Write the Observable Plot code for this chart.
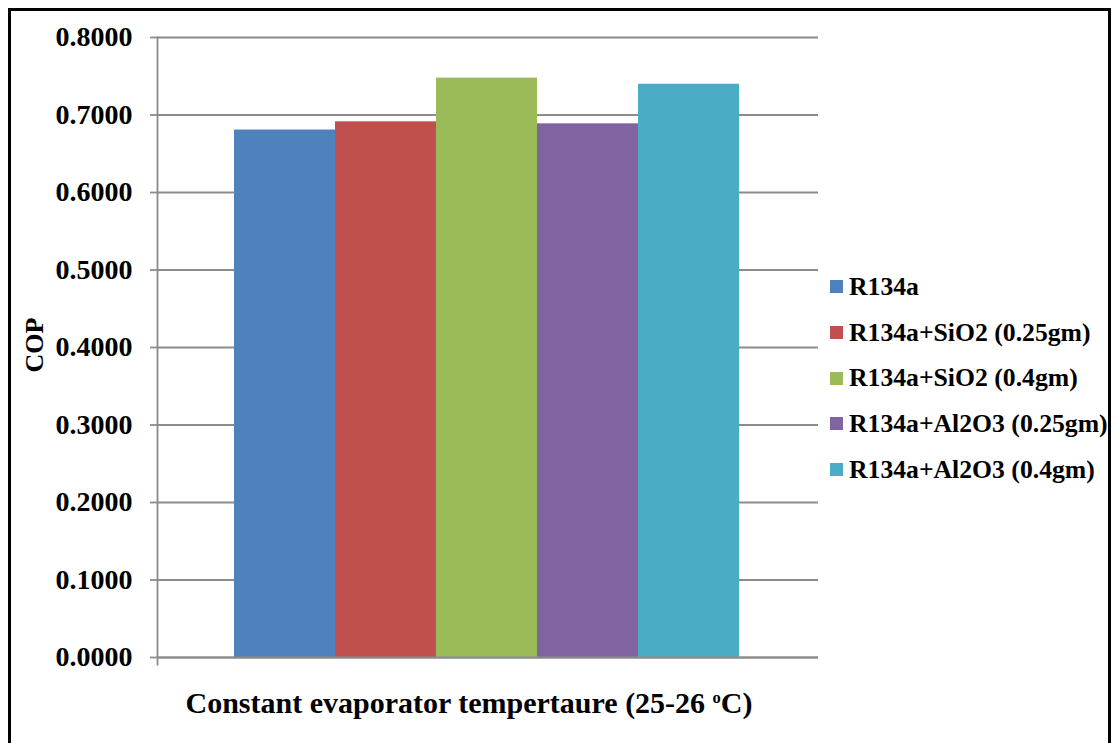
<!DOCTYPE html>
<html>
<head>
<meta charset="utf-8">
<script src="https://cdn.jsdelivr.net/npm/d3@7"></script>
<script src="https://cdn.jsdelivr.net/npm/@observablehq/plot@0.6"></script>
<style>
  html, body { margin: 0; padding: 0; background: #fff; }
  #wrap { position: relative; width: 1117px; height: 743px; overflow: hidden;
          font-family: "Liberation Serif", "Times New Roman", serif; font-weight: bold; color: #000; }
  #wrap svg { position: absolute; left: 0; top: 0; }
  #border { position: absolute; left: 8px; top: 8px; width: 1103px; height: 800px;
            border: 3px solid #000; box-sizing: border-box; pointer-events: none; }
  #ylabel { position: absolute; left: 35px; top: 345px; transform: translate(-50%, -50%) rotate(-90deg);
            font-size: 26px; white-space: nowrap; }
  #xlabel { position: absolute; left: 469px; top: 703px; transform: translate(-50%, -50%);
            font-size: 30px; white-space: nowrap; }
  #xlabel sup { font-size: 0.55em; vertical-align: 0.6em; line-height: 0; }
  #legend { position: absolute; left: 830px; top: 264px; }
  .row { display: flex; align-items: center; height: 45.7px; font-size: 25.7px; white-space: nowrap; }
  .sw { width: 13px; height: 13px; margin-right: 6px; flex: none; }
</style>
</head>
<body>
<div id="wrap">
  <div id="ylabel">COP</div>
  <div id="xlabel">Constant evaporator tempertaure (25-26 <sup>o</sup>C)</div>
  <div id="legend"></div>
  <div id="border"></div>
</div>
<script>
// Refrigerant mixtures and their coefficient of performance
const series = [
  "R134a",
  "R134a+SiO2 (0.25gm)",
  "R134a+SiO2 (0.4gm)",
  "R134a+Al2O3 (0.25gm)",
  "R134a+Al2O3 (0.4gm)"
];
const cop = [0.6806, 0.6912, 0.7476, 0.6886, 0.7397];
const colors = ["#4F81BD", "#C0504D", "#9BBB59", "#8064A2", "#4BACC6"];
const yTicks = [0, 0.1, 0.2, 0.3, 0.4, 0.5, 0.6, 0.7, 0.8];

const data = series.map((name, i) => ({name, cop: cop[i]}));
const gridColor = "#8c8c8c";

const chart = Plot.plot({
  width: 1117,
  height: 743,
  marginLeft: 157,
  marginRight: 299,
  marginTop: 37,
  marginBottom: 86,
  style: {fontFamily: "Liberation Serif, Times New Roman, serif", color: "#000", background: "transparent"},
  x: {domain: series, paddingInner: 0, paddingOuter: 0.755, align: 0.495, axis: null},
  y: {domain: [0, 0.8]},
  color: {domain: series, range: colors},
  marks: [
    Plot.gridY(yTicks, {stroke: gridColor, strokeOpacity: 1, strokeWidth: 1.8}),
    Plot.barY(data, {x: "name", y: "cop", fill: "name"}),
    Plot.ruleY([0], {stroke: gridColor, strokeWidth: 1.8}),
    Plot.frame({anchor: "left", stroke: gridColor, strokeWidth: 1.8, insetBottom: -7}),
    Plot.axisY(yTicks, {
      tickFormat: d3.format(".4f"),
      tickSize: 7,
      tickPadding: 18,
      stroke: gridColor,
      strokeWidth: 1.8,
      fill: "#000",
      fontSize: 28,
      fontWeight: "bold",
      label: null
    })
  ]
});
document.getElementById("wrap").prepend(chart);

// Legend built from the same series and colours
const legend = d3.select("#legend");
series.forEach((name, i) => {
  const row = legend.append("div").attr("class", "row");
  row.append("div").attr("class", "sw").style("background", colors[i]);
  row.append("span").text(name);
});
</script>
</body>
</html>
